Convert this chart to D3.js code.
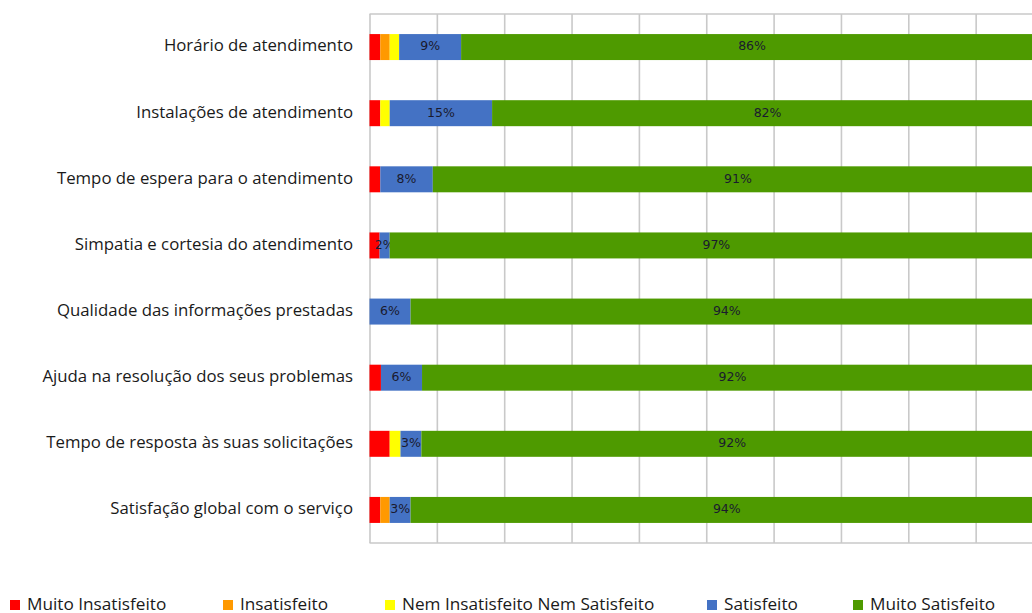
<!DOCTYPE html>
<html lang="pt">
<head>
<meta charset="UTF-8">
<title>Satisfação com o atendimento</title>
<script src="https://d3js.org/d3.v7.min.js"></script>
<style>
  body { margin: 0; background: #fff; }
  text { font-family: "Open Sans", "Noto Sans", sans-serif; }
</style>
</head>
<body>
<script>
// categories (top to bottom)
var categories = [
    "Horário de atendimento",
    "Instalações de atendimento",
    "Tempo de espera para o atendimento",
    "Simpatia e cortesia do atendimento",
    "Qualidade das informações prestadas",
    "Ajuda na resolução dos seus problemas",
    "Tempo de resposta às suas solicitações",
    "Satisfação global com o serviço"
];

var seriesNames = ["Muito Insatisfeito", "Insatisfeito", "Nem Insatisfeito Nem Satisfeito", "Satisfeito", "Muito Satisfeito"];

// values in %
var muitoInsatisfeito = [1.6, 1.6, 1.6, 1.5, 0, 1.7, 3.0, 1.6];
var insatisfeito      = [1.4, 0, 0, 0, 0, 0, 0, 1.4];
var nemNem            = [1.4, 1.4, 0, 0, 0, 0, 1.6, 0];
var satisfeito        = [9.2, 15.2, 7.8, 1.5, 6.1, 6.1, 3.1, 3.1];
var muitoSatisfeito   = [86.4, 81.8, 90.6, 97.0, 93.9, 92.2, 92.3, 93.9];

var gridTicks = [0, 10, 20, 30, 40, 50, 60, 70, 80, 90, 100];

var colors = ["#ff0000", "#ff9900", "#ffff00", "#4472c4", "#4e9a00"];
var labelled = ["Satisfeito", "Muito Satisfeito"];

// build table for the stack
var table = categories.map(function(c, i) {
    return {
        cat: c,
        "Muito Insatisfeito": muitoInsatisfeito[i],
        "Insatisfeito": insatisfeito[i],
        "Nem Insatisfeito Nem Satisfeito": nemNem[i],
        "Satisfeito": satisfeito[i],
        "Muito Satisfeito": muitoSatisfeito[i]
    };
});

var W = 1032, H = 613;
var plot = {left: 369.5, top: 14, bottom: 543, right: 1043};

var svg = d3.select("body").append("svg")
    .attr("width", W)
    .attr("height", H);

var x = d3.scaleLinear().domain([0, 100]).range([plot.left, plot.right]);
var y = d3.scaleBand().domain(categories)
    .range([plot.top, plot.bottom])
    .paddingInner(0.607)
    .paddingOuter(0.3035);

var color = d3.scaleOrdinal().domain(seriesNames).range(colors);

// vertical grid lines
svg.append("g")
    .attr("transform", "translate(0," + plot.bottom + ")")
    .call(d3.axisBottom(x).tickValues(gridTicks).tickSize(-(plot.bottom - plot.top)).tickFormat(""))
    .call(function(g) { g.select(".domain").remove(); })
    .selectAll(".tick line")
    .attr("stroke", "#c9c9c9")
    .attr("stroke-width", 1.6);

// top and bottom border
svg.append("line").attr("x1", plot.left).attr("x2", W)
    .attr("y1", plot.top).attr("y2", plot.top)
    .attr("stroke", "#c9c9c9").attr("stroke-width", 1.6);
svg.append("line").attr("x1", plot.left).attr("x2", W)
    .attr("y1", plot.bottom).attr("y2", plot.bottom)
    .attr("stroke", "#c9c9c9").attr("stroke-width", 1.6);

// stacked bars
var stacked = d3.stack().keys(seriesNames)(table);

var layers = svg.append("g").selectAll("g")
    .data(stacked)
    .enter().append("g")
    .attr("fill", function(d) { return color(d.key); });

layers.selectAll("rect")
    .data(function(d) { return d; })
    .enter().append("rect")
    .attr("x", function(d) { return x(d[0]); })
    .attr("y", function(d) { return y(d.data.cat); })
    .attr("width", function(d) { return x(d[1]) - x(d[0]); })
    .attr("height", y.bandwidth());

// data labels (only on the two satisfied series)
layers.filter(function(d) { return labelled.indexOf(d.key) >= 0; })
    .selectAll("text")
    .data(function(d) { return d; })
    .enter().append("text")
    .attr("x", function(d) { return (x(d[0]) + x(d[1])) / 2; })
    .attr("y", function(d) { return y(d.data.cat) + y.bandwidth() / 2 - 1; })
    .attr("dy", "0.35em")
    .attr("text-anchor", "middle")
    .style("font-family", "'DejaVu Sans', sans-serif")
    .style("font-size", "12.5px")
    .attr("fill", "#1a1a2e")
    .text(function(d) { return Math.round(d[1] - d[0]) + "%"; });

// category labels
svg.append("g").selectAll("text")
    .data(categories)
    .enter().append("text")
    .attr("x", 353)
    .attr("y", function(d) { return y(d) + y.bandwidth() / 2 - 1.5; })
    .attr("dy", "0.35em")
    .attr("text-anchor", "end")
    .style("font-size", "16.8px")
    .attr("fill", "#1a1a1a")
    .text(function(d) { return d; });

// legend
var legendX = [10, 223, 385, 707, 853];
var legend = svg.append("g").selectAll("g")
    .data(seriesNames)
    .enter().append("g")
    .attr("transform", function(d, i) { return "translate(" + legendX[i] + ",600)"; });

legend.append("rect")
    .attr("width", 10).attr("height", 10)
    .attr("fill", function(d) { return color(d); });

legend.append("text")
    .attr("x", 17)
    .attr("y", 9.5)
    .style("font-size", "17.2px")
    .attr("fill", "#1a1a1a")
    .text(function(d) { return d; });
</script>
</body>
</html>
